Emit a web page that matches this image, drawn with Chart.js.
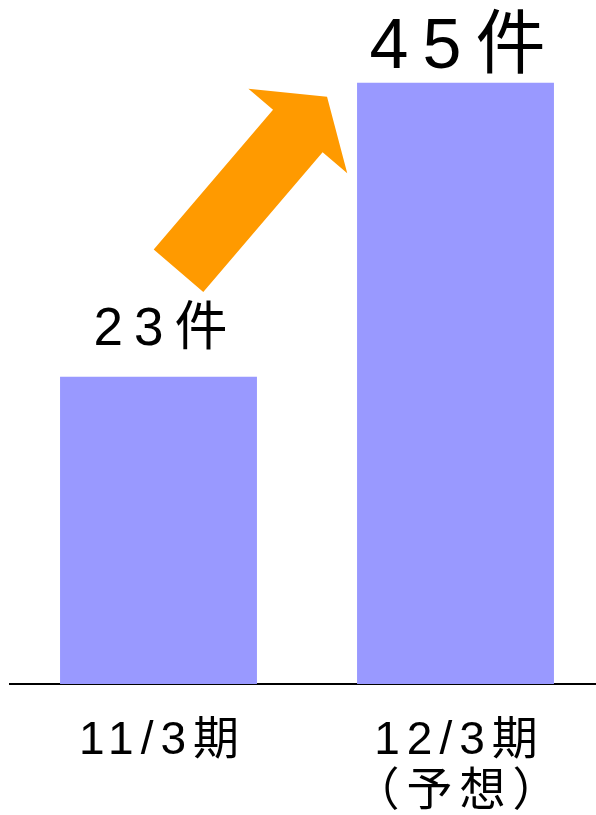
<!DOCTYPE html>
<html>
<head>
<meta charset="utf-8">
<script src="https://cdn.jsdelivr.net/npm/chart.js@4.4.1/dist/chart.umd.min.js"></script>
<style>
    html, body { margin: 0; padding: 0; background: #fff; overflow: hidden; }
    #wrap { position: relative; width: 604px; height: 842px; }
</style>
</head>
<body>
<div id="wrap"><canvas id="myChart"></canvas></div>
<script>
// データ
var categories = [['11/3期'], ['12/3期', '（予想）']];
var values = [23, 45];
var valueLabels = ['23件', '45件'];

var FONT = '"Liberation Sans", "Noto Sans CJK JP", sans-serif';

// 数値ラベルの見た目（サイズ・間隔・棒との隙間）
var labelStyle = [
    { size: 53, spacing: 11, gap: 32 },
    { size: 70, spacing: 14, gap: 15 }
];

// 文字間隔（キャンバス全体）
function setSpacing(chart) { chart.ctx.letterSpacing = '7px'; }
var spacingPlugin = {
    id: 'spacing',
    beforeInit: setSpacing,
    beforeUpdate: setSpacing,
    beforeDraw: setSpacing
};

// 矢印と数値ラベル
var decoPlugin = {
    id: 'deco',
    afterDatasetsDraw: function(chart) {
        var ctx = chart.ctx;
        var bars = chart.getDatasetMeta(0).data;
        var b1 = bars[0], b2 = bars[1];

        // 矢印（棒1の上から棒2の左上へ）
        var tx = b1.x + 20, ty = b1.y - 106;
        var hx = b2.x - b2.width / 2 - 30, hy = b2.y + 14;
        var dx = hx - tx, dy = hy - ty;
        var len = Math.sqrt(dx * dx + dy * dy);
        var ux = dx / len, uy = dy / len;
        var nx = -uy, ny = ux;
        var sw = 32.6, hw = 65, hl = 45;
        var bx = hx - ux * hl, by = hy - uy * hl;
        ctx.save();
        ctx.fillStyle = '#FF9A00';
        ctx.beginPath();
        ctx.moveTo(tx + nx * sw, ty + ny * sw);
        ctx.lineTo(bx + nx * sw, by + ny * sw);
        ctx.lineTo(bx + nx * hw, by + ny * hw);
        ctx.lineTo(hx, hy);
        ctx.lineTo(bx - nx * hw, by - ny * hw);
        ctx.lineTo(bx - nx * sw, by - ny * sw);
        ctx.lineTo(tx - nx * sw, ty - ny * sw);
        ctx.closePath();
        ctx.fill();
        ctx.restore();

        // 数値ラベル
        bars.forEach(function(bar, i) {
            var st = labelStyle[i];
            ctx.save();
            ctx.letterSpacing = st.spacing + 'px';
            ctx.font = st.size + 'px ' + FONT;
            ctx.fillStyle = '#000';
            ctx.textAlign = 'center';
            ctx.textBaseline = 'alphabetic';
            ctx.fillText(valueLabels[i], bar.x + st.spacing / 2 + 2, bar.y - st.gap);
            ctx.restore();
        });
    }
};

var ctx = document.getElementById('myChart').getContext('2d');
var myChart = new Chart(ctx, {
    type: 'bar',
    data: {
        labels: categories,
        datasets: [{
            data: values,
            backgroundColor: '#9999FF',
            borderWidth: 0,
            barPercentage: 0.663,
            categoryPercentage: 1
        }]
    },
    options: {
        responsive: true,
        maintainAspectRatio: false,
        animation: false,
        layout: { padding: { top: 16, left: 10, right: 0, bottom: 0 } },
        plugins: { legend: { display: false }, tooltip: { enabled: false } },
        scales: {
            x: {
                grid: { display: false },
                border: { display: true, color: '#000', width: 2 },
                ticks: {
                    color: '#000',
                    padding: 24,
                    labelOffset: 4,
                    maxRotation: 0,
                    font: { family: FONT, size: 46, lineHeight: 51 / 46 }
                }
            },
            y: {
                display: false,
                min: 0,
                max: 50
            }
        }
    },
    plugins: [spacingPlugin, decoPlugin]
});
</script>
</body>
</html>
